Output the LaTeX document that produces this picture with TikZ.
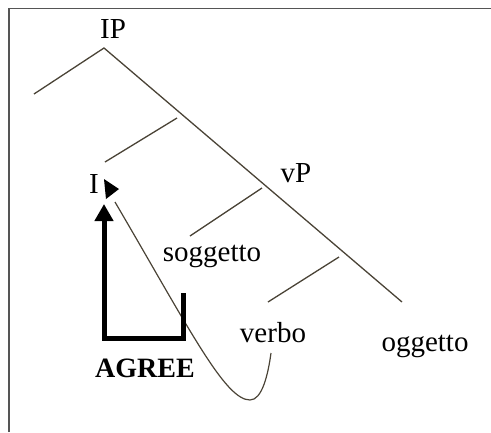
\documentclass[tikz,border=0pt]{standalone}
\usepackage{fontspec}
\setmainfont{Liberation Serif}
\usepackage{tikz}
\usetikzlibrary{arrows.meta}
\definecolor{treeline}{HTML}{4A4336}
\definecolor{framegray}{HTML}{555555}
\tikzset{
  lbl/.style={font=\fontsize{29}{31}\selectfont, inner sep=0pt, anchor=base},
  branch/.style={draw=treeline, line width=1.3pt},
  agreepath/.style={line width=5pt, line join=miter, -{Triangle[width=18pt,length=17pt]}}
}

\begin{document}
\begin{tikzpicture}[x=1pt, y=-1pt]
  \useasboundingbox (0,0) rectangle (491,432);
  % frame, top and left only
  \draw[framegray, line width=1.6pt] (9,432) -- (9,8.5) -- (491,8.5);

  % labels
  \node[lbl] (ip) at (113,38) {IP};
  \node[lbl] (infl) at (94,193) {I};
  \node[lbl] (vp) at (296,182) {vP};
  \node[lbl] (sogg) at (212,261) {soggetto};
  \node[lbl] (verbo) at (273,342) {verbo};
  \node[lbl] (ogg) at (425,351) {oggetto};
  \node[lbl, font=\fontsize{28}{30}\selectfont\bfseries] (agree) at (145,377) {AGREE};

  % tree
  \coordinate (apex) at (104,48);
  \coordinate (spec) at (34,94);
  \coordinate (bottom) at (402,302);
  \draw[branch] (spec) -- (apex) -- (bottom);
  \draw[branch] (105,162) -- (177,118);
  \draw[branch] (190,236) -- (262,188);
  \draw[branch] (268,302) -- (339,257);

  % movement of the verb up to I
  \coordinate (vfoot) at (271,353);
  \coordinate (ihead) at (115,202);
  \draw[treeline, line width=1.2pt] (ihead) .. controls (190,330) and (225,400) .. (250,400)
    .. controls (262,400) and (268,375) .. (vfoot);
  \fill (104,179) -- (119,189) -- (106,199) -- cycle;

  % agreement arrow
  \draw[agreepath] (183,293) -- (183,338) -- (104,338) -- (104,204);
\end{tikzpicture}
\end{document}
